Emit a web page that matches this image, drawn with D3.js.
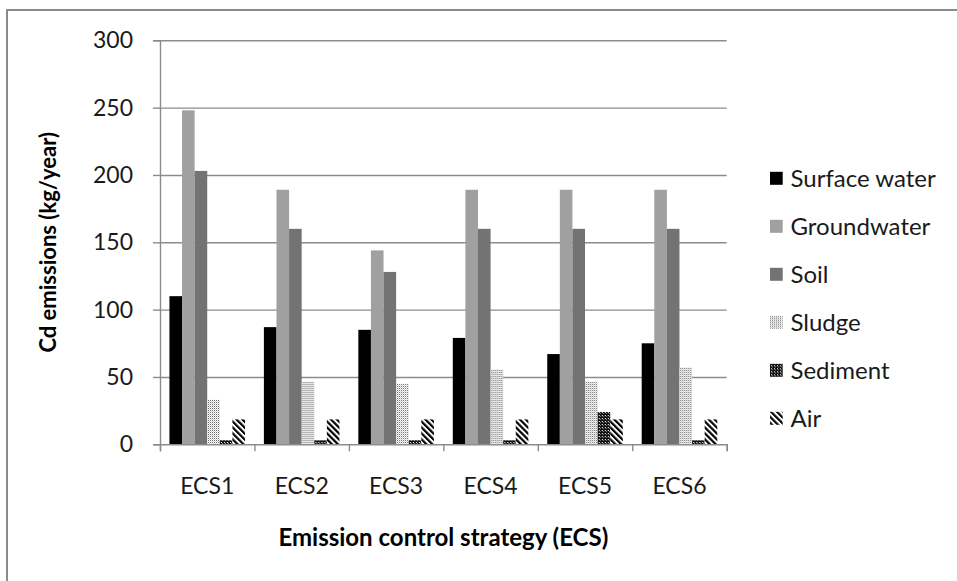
<!DOCTYPE html>
<html>
<head>
<meta charset="utf-8">
<script src="https://cdn.jsdelivr.net/npm/d3@7"></script>
<style>
  html, body { margin: 0; padding: 0; background: #fff; }
  svg { display: block; font-family: Lato, "Noto Sans", sans-serif; }
</style>
</head>
<body>
<svg id="chart" width="957" height="581"></svg>
<script>
// Cd emissions per environmental compartment for each emission control strategy
const categories = ["ECS1", "ECS2", "ECS3", "ECS4", "ECS5", "ECS6"];
const seriesNames = ["Surface water", "Groundwater", "Soil", "Sludge", "Sediment", "Air"];
const surfaceWater = [110, 87, 85, 79, 67, 75];
const groundwater  = [248, 189, 144, 189, 189, 189];
const soil         = [203, 160, 128, 160, 160, 160];
const sludge       = [33, 46.5, 45, 55.5, 46.5, 57];
const sediment     = [3, 3, 3, 3, 24, 3];
const air          = [18.5, 18.5, 18.5, 18.5, 18.5, 18.5];
const yTicks = [0, 50, 100, 150, 200, 250, 300];
const yTitle = "Cd emissions (kg/year)";
const xTitle = "Emission control strategy (ECS)";

const seriesValues = [surfaceWater, groundwater, soil, sludge, sediment, air];

const svg = d3.select("#chart");
const W = 957, H = 581;
const plot = { left: 160, right: 726.7, top: 40.3, bottom: 444.3 };

// fills: solid greys plus three hatch patterns
const defs = svg.append("defs");

const pSludge = defs.append("pattern").attr("id", "pat-sludge")
  .attr("patternUnits", "userSpaceOnUse").attr("width", 2).attr("height", 2);
pSludge.append("rect").attr("width", 2).attr("height", 2).attr("fill", "#ffffff");
pSludge.append("rect").attr("x", 0).attr("y", 0).attr("width", 1).attr("height", 1).attr("fill", "#6a6a6a");
pSludge.append("rect").attr("x", 1).attr("y", 1).attr("width", 1).attr("height", 1).attr("fill", "#cfcfcf");

const pSed = defs.append("pattern").attr("id", "pat-sediment")
  .attr("patternUnits", "userSpaceOnUse").attr("width", 3).attr("height", 3);
pSed.append("rect").attr("width", 3).attr("height", 3).attr("fill", "#111111");
pSed.append("rect").attr("x", 1).attr("y", 1).attr("width", 1).attr("height", 1).attr("fill", "#ffffff");
pSed.append("rect").attr("x", 2).attr("y", 2).attr("width", 1).attr("height", 1).attr("fill", "#8a8a8a");

const pAir = defs.append("pattern").attr("id", "pat-air")
  .attr("patternUnits", "userSpaceOnUse").attr("width", 4.2).attr("height", 4.2)
  .attr("patternTransform", "rotate(-45)");
pAir.append("rect").attr("width", 4.2).attr("height", 4.2).attr("fill", "#ffffff");
pAir.append("rect").attr("x", 0).attr("y", 0).attr("width", 2.2).attr("height", 4.2).attr("fill", "#000000");

const fills = ["#000000", "#a0a0a0", "#737373", "url(#pat-sludge)", "url(#pat-sediment)", "url(#pat-air)"];

// frame of the chart area
svg.append("path")
  .attr("d", `M7,${H} V10 H${W}`)
  .attr("fill", "none").attr("stroke", "#8a8a8a").attr("stroke-width", 2);

// scales
const x = d3.scaleBand().domain(categories).range([plot.left, plot.right]).paddingInner(0).paddingOuter(0);
const xs = d3.scaleBand().domain(seriesNames).range([0, x.bandwidth()]).paddingInner(0).paddingOuter(0.75);
const y = d3.scaleLinear().domain([0, 300]).range([plot.bottom, plot.top]);
const color = d3.scaleOrdinal().domain(seriesNames).range(fills);

// horizontal gridlines
svg.append("g")
  .attr("transform", `translate(${plot.left},0)`)
  .call(d3.axisLeft(y).tickValues(yTicks.filter(v => v > 0)).tickSize(-(plot.right - plot.left)).tickFormat(""))
  .call(g => g.select(".domain").remove())
  .call(g => g.selectAll(".tick line").attr("stroke", "#8c8c8c").attr("stroke-width", 1.4));

// bars
const rows = categories.map((c, i) => ({ cat: c, vals: seriesNames.map((s, j) => ({ s, v: seriesValues[j][i] })) }));
svg.append("g").selectAll("g").data(rows).join("g")
  .attr("transform", d => `translate(${x(d.cat)},0)`)
  .selectAll("rect").data(d => d.vals).join("rect")
  .attr("x", d => xs(d.s))
  .attr("width", xs.bandwidth())
  .attr("y", d => y(d.v))
  .attr("height", d => y(0) - y(d.v))
  .attr("fill", d => color(d.s));

// y axis
const yAxis = svg.append("g")
  .attr("transform", `translate(${plot.left},0)`)
  .call(d3.axisLeft(y).tickValues(yTicks).tickSize(7).tickPadding(20));
yAxis.select(".domain").attr("stroke", "#8c8c8c").attr("stroke-width", 1.4);
yAxis.selectAll(".tick line").attr("stroke", "#8c8c8c").attr("stroke-width", 1.4);
yAxis.selectAll(".tick text").attr("font-size", 23).attr("fill", "#1a1a1a").attr("font-family", "Lato, sans-serif");

// x axis: boundary ticks
const xEdges = d3.scaleLinear().domain([0, categories.length]).range([plot.left, plot.right]);
const xAxisTicks = svg.append("g")
  .attr("transform", `translate(0,${plot.bottom})`)
  .call(d3.axisBottom(xEdges).ticks(categories.length).tickSize(7).tickFormat(""));
xAxisTicks.select(".domain").attr("stroke", "#8c8c8c").attr("stroke-width", 1.4);
xAxisTicks.selectAll(".tick line").attr("stroke", "#8c8c8c").attr("stroke-width", 1.4);

// x axis: category labels
const xAxisLabels = svg.append("g")
  .attr("transform", `translate(0,${plot.bottom})`)
  .call(d3.axisBottom(x).tickSize(0));
xAxisLabels.select(".domain").remove();
xAxisLabels.selectAll(".tick text")
  .attr("y", 49.7).attr("dy", null)
  .attr("font-size", 23).attr("fill", "#1a1a1a").attr("font-family", "Lato, sans-serif");

// axis titles
svg.append("text")
  .attr("transform", `translate(56,${(plot.top + plot.bottom) / 2}) rotate(-90)`)
  .attr("text-anchor", "middle")
  .attr("font-size", 22).attr("font-weight", "bold").attr("fill", "#000")
  .text(yTitle);

svg.append("text")
  .attr("x", (plot.left + plot.right) / 2).attr("y", 546)
  .attr("text-anchor", "middle")
  .attr("font-size", 24).attr("font-weight", "bold").attr("fill", "#000")
  .text(xTitle);

// legend
const legend = svg.append("g").attr("transform", "translate(770,178.3)");
const item = legend.selectAll("g").data(seriesNames).join("g")
  .attr("transform", (d, i) => `translate(0,${i * 48})`);
item.append("rect")
  .attr("x", 0).attr("y", -6.5).attr("width", 12.7).attr("height", 13)
  .attr("fill", d => color(d));
item.append("text")
  .attr("x", 20.5).attr("y", 8.2)
  .attr("font-size", 24).attr("fill", "#1a1a1a")
  .text(d => d);
</script>
</body>
</html>
